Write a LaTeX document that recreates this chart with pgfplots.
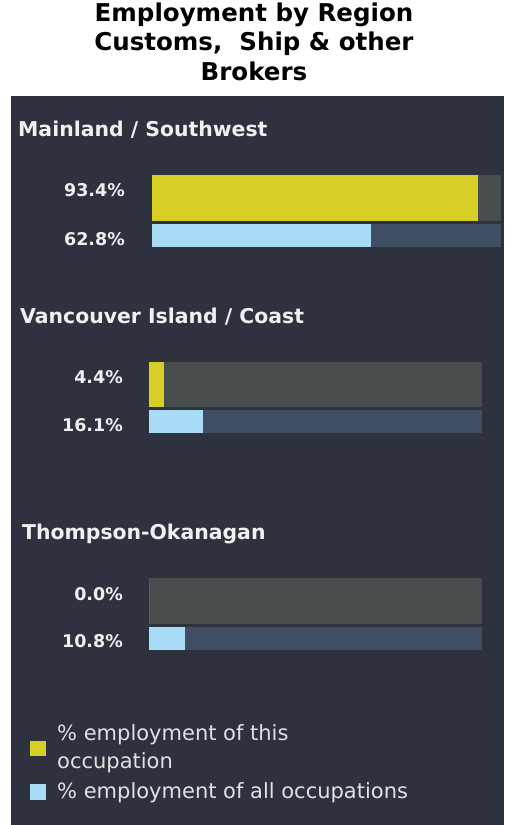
\documentclass[border=0pt]{standalone}
\usepackage{pgfplots}
\pgfplotsset{compat=1.18}
\usepackage{fontspec}
\setmainfont{DejaVu Sans}
\definecolor{panelbg}{RGB}{46,50,62}
\definecolor{ycol}{RGB}{216,207,38}
\definecolor{bcol}{RGB}{168,219,245}
\definecolor{ytrack}{RGB}{70,77,76}
\definecolor{btrack}{RGB}{64,78,99}
\definecolor{lbl}{RGB}{240,240,240}
\pgfplotsset{
  panel/.style={scale only axis, hide axis, xmin=0, xmax=100, ymin=0, ymax=71, clip=false, anchor=south west},
  trk/.style={xbar, bar shift=0pt, draw=none, fill=#1},
}
\begin{document}
\begin{tikzpicture}[x=1pt,y=1pt]
\useasboundingbox (0,0) rectangle (504,-825);
\fill[white] (0,0) rectangle (504,-825);
\fill[panelbg] (11,-96) rectangle (504,-825);
% title
\node[anchor=base, inner sep=0, font=\bfseries\fontsize{24.5}{29.5}\selectfont] at (254,-21) {Employment by Region};
\node[anchor=base, inner sep=0, font=\bfseries\fontsize{24.5}{29.5}\selectfont] at (254,-50) {Customs,\ \ Ship \& other};
\node[anchor=base, inner sep=0, font=\bfseries\fontsize{24.5}{29.5}\selectfont] at (254,-80) {Brokers};
% headings
\begin{scope}[every node/.style={inner sep=0, text=lbl}]
\node[anchor=base west, font=\bfseries\fontsize{20.4}{24}\selectfont] at (18,-136) {Mainland / Southwest};
\node[anchor=base west, font=\bfseries\fontsize{20.4}{24}\selectfont] at (20,-323) {Vancouver Island / Coast};
\node[anchor=base west, font=\bfseries\fontsize{20.4}{24}\selectfont] at (22,-539) {Thompson-Okanagan};
\node[anchor=base east, font=\bfseries\fontsize{17.5}{21}\selectfont] at (125,-196) {93.4\%};
\node[anchor=base east, font=\bfseries\fontsize{17.5}{21}\selectfont] at (125,-245) {62.8\%};
\node[anchor=base east, font=\bfseries\fontsize{17.5}{21}\selectfont] at (123,-383) {4.4\%};
\node[anchor=base east, font=\bfseries\fontsize{17.5}{21}\selectfont] at (123,-431) {16.1\%};
\node[anchor=base east, font=\bfseries\fontsize{17.5}{21}\selectfont] at (123,-600) {0.0\%};
\node[anchor=base east, font=\bfseries\fontsize{17.5}{21}\selectfont] at (123,-647) {10.8\%};
% legend
\node[anchor=base west, font=\fontsize{21}{29}\selectfont, text=lbl!92!panelbg] at (57,-740) {\% employment of this};
\node[anchor=base west, font=\fontsize{21}{29}\selectfont, text=lbl!92!panelbg] at (57,-768) {occupation};
\node[anchor=base west, font=\fontsize{21}{29}\selectfont, text=lbl!92!panelbg] at (57,-798) {\% employment of all occupations};
\end{scope}
\fill[ycol] (30,-741) rectangle (46,-756);
\fill[bcol] (30,-784) rectangle (46,-800);
% panel 1
\begin{axis}[panel, at={(152pt,-247pt)}, width=349pt, height=72pt, ymax=72]
\addplot[trk=ytrack, bar width=46] coordinates {(100,49)};
\addplot[trk=ycol, bar width=46] coordinates {(93.4,49)};
\addplot[trk=btrack, bar width=23] coordinates {(100,11.5)};
\addplot[trk=bcol, bar width=23] coordinates {(62.8,11.5)};
\end{axis}
% panel 2
\begin{axis}[panel, at={(149pt,-433pt)}, width=333pt, height=71pt]
\addplot[trk=ytrack, bar width=45] coordinates {(100,48.5)};
\addplot[trk=ycol, bar width=45] coordinates {(4.4,48.5)};
\addplot[trk=btrack, bar width=23] coordinates {(100,11.5)};
\addplot[trk=bcol, bar width=23] coordinates {(16.1,11.5)};
\end{axis}
% panel 3
\begin{axis}[panel, at={(149pt,-650pt)}, width=333pt, height=72pt, ymax=72]
\addplot[trk=ytrack, bar width=46] coordinates {(100,49)};
\addplot[trk=ycol, bar width=46] coordinates {(0.0,49)};
\addplot[trk=btrack, bar width=23] coordinates {(100,11.5)};
\addplot[trk=bcol, bar width=23] coordinates {(10.8,11.5)};
\end{axis}
\end{tikzpicture}
\end{document}
